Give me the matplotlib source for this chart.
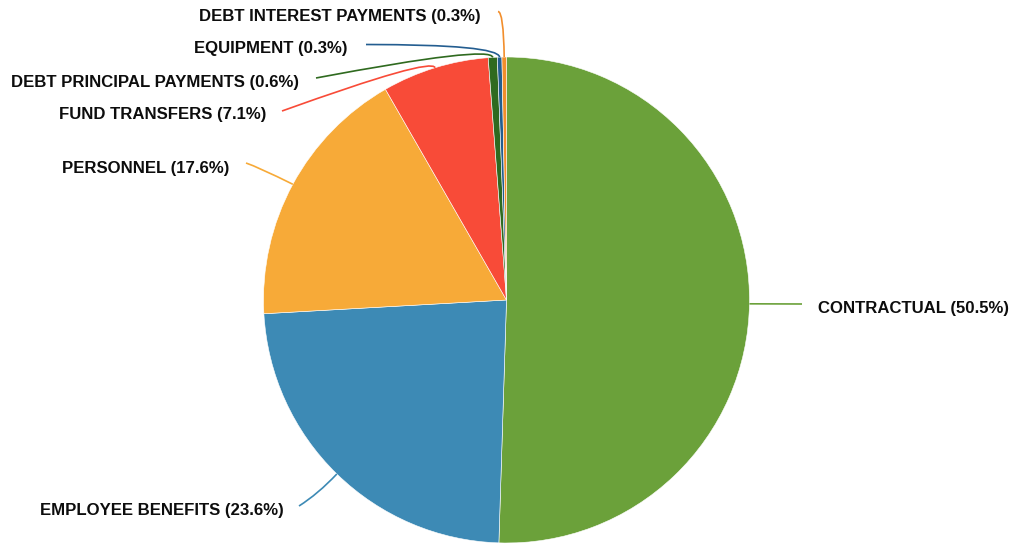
"""Spending by category, drawn as a pie with curved leader labels."""

import numpy as np
import matplotlib
matplotlib.use("Agg")
import matplotlib.pyplot as plt
from matplotlib.path import Path
from matplotlib.patches import PathPatch

W, H = 1010, 544

categories = [
    "CONTRACTUAL",
    "EMPLOYEE BENEFITS",
    "PERSONNEL",
    "FUND TRANSFERS",
    "DEBT PRINCIPAL PAYMENTS",
    "EQUIPMENT",
    "DEBT INTEREST PAYMENTS",
]
shares = [50.5, 23.6, 17.6, 7.1, 0.6, 0.3, 0.3]
colors = ["#6BA13A", "#3D8AB5", "#F7AA38", "#F84B38", "#2F6A1F", "#235D90", "#F28E2C"]

# label anchors in screen pixels (top-left origin)
label_pos = [(818, 308.5), (284, 511), (229, 168), (266, 115), (299, 82), (348, 49), (481, 16)]
label_ha = ["left", "right", "right", "right", "right", "right", "right"]
# where each leader line ends, and the bend it curves through
leader_end = [(802, 304), (299, 506), (246, 163), (282, 111), (316, 78), (366, 44.5), (498, 11.5)]
leader_bend = [None, (318, 494), (258, 167), (432, 57), (491, 45), (498, 44.5), (503.5, 11.5)]

CX, CY, R = 506.5, 300, 243


def Y(py):
    return H - py


fig = plt.figure(figsize=(W / 100, H / 100), dpi=100)
ax = fig.add_axes([0, 0, 1, 1])

wedges, _ = ax.pie(
    shares, colors=colors, startangle=90, counterclock=False,
    center=(CX, Y(CY)), radius=R,
    wedgeprops=dict(edgecolor="white", linewidth=0.4),
)

for w, cat, share, col, (lx, ly), ha, end, bend in zip(
        wedges, categories, shares, colors, label_pos, label_ha, leader_end, leader_bend):
    mid = np.deg2rad((w.theta1 + w.theta2) / 2)
    start = (CX + R * np.cos(mid), Y(CY) + R * np.sin(mid))
    e = (end[0], Y(end[1]))
    if bend is None:
        verts = [start, e]
        codes = [Path.MOVETO, Path.LINETO]
    else:
        verts = [start, (bend[0], Y(bend[1])), e]
        codes = [Path.MOVETO, Path.CURVE3, Path.CURVE3]
    ax.add_patch(PathPatch(Path(verts, codes), fc="none", ec=col, lw=1.2))
    ax.text(lx, Y(ly), f"{cat} ({share}%)", ha=ha, va="center",
            fontsize=12.1, fontweight="bold", family="Liberation Sans", color="#0d0d0d")

ax.set_xlim(0, W)
ax.set_ylim(0, H)
ax.axis("off")

fig.savefig("out.png", dpi=100, facecolor="white")
